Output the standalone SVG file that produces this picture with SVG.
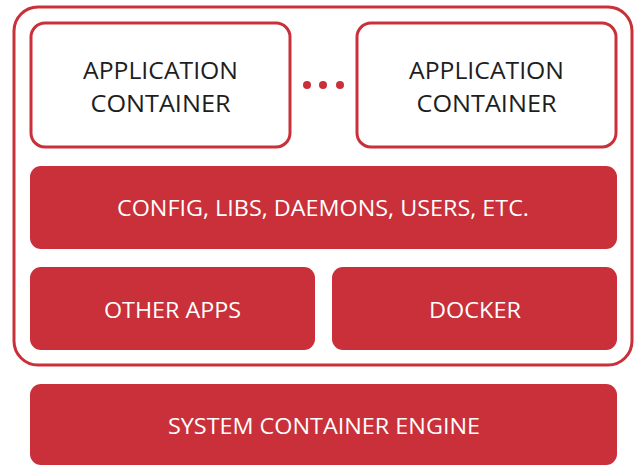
<svg xmlns="http://www.w3.org/2000/svg" width="636" height="466" viewBox="0 0 636 466">
<style>
.out{fill:#fff;stroke:#c9303a;stroke-width:3}
.solid{fill:#c9303a}
.t{font-family:"Open Sans","Liberation Sans",sans-serif;text-anchor:middle}
.dk{fill:#1e1e1e;font-size:24px}
.wt{fill:#fff;font-size:22px}
</style>
<rect width="636" height="466" fill="#fff"/>
<g id="host">
<rect class="out" x="14" y="7" width="618" height="358" rx="24"/>
</g>
<g id="app1">
<rect class="out" x="31" y="23" width="259" height="124" rx="14"/>
<text class="t dk" x="160.5" y="79" textLength="155" lengthAdjust="spacingAndGlyphs">APPLICATION</text>
<text class="t dk" x="160.5" y="111.5" textLength="140" lengthAdjust="spacingAndGlyphs">CONTAINER</text>
</g>
<g id="dots" fill="#c9303a">
<circle cx="307" cy="85" r="4"/>
<circle cx="323" cy="85" r="4"/>
<circle cx="340" cy="85" r="4"/>
</g>
<g id="app2">
<rect class="out" x="357" y="23" width="259" height="124" rx="14"/>
<text class="t dk" x="486.5" y="79" textLength="155" lengthAdjust="spacingAndGlyphs">APPLICATION</text>
<text class="t dk" x="486.5" y="111.5" textLength="140" lengthAdjust="spacingAndGlyphs">CONTAINER</text>
</g>
<g id="config">
<rect class="solid" x="30" y="166" width="587" height="83" rx="11"/>
<text class="t wt" x="323" y="216" textLength="412" lengthAdjust="spacingAndGlyphs">CONFIG, LIBS, DAEMONS, USERS, ETC.</text>
</g>
<g id="other">
<rect class="solid" x="30" y="267" width="285" height="83" rx="11"/>
<text class="t wt" x="172.5" y="317.5" textLength="137" lengthAdjust="spacingAndGlyphs">OTHER APPS</text>
</g>
<g id="docker">
<rect class="solid" x="332" y="267" width="285" height="83" rx="11"/>
<text class="t wt" x="475" y="317.5" textLength="92" lengthAdjust="spacingAndGlyphs">DOCKER</text>
</g>
<g id="engine">
<rect class="solid" x="30" y="384" width="587" height="81" rx="11"/>
<text class="t wt" x="324" y="434" textLength="312" lengthAdjust="spacingAndGlyphs">SYSTEM CONTAINER ENGINE</text>
</g>
<g id="connectors"/>
</svg>
